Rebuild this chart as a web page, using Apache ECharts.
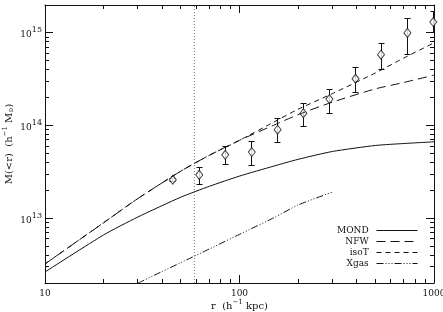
<!DOCTYPE html>
<html>
<head>
<meta charset="utf-8">
<script src="https://cdn.jsdelivr.net/npm/echarts@6/dist/echarts.min.js"></script>
<style>
  html, body { margin: 0; padding: 0; background: #fff; }
  #chart { width: 443px; height: 312px; }
</style>
</head>
<body>
<div id="chart"></div>
<script>
// model curves: r in h^-1 kpc, M(<r) in h^-1 Msun
var curveR = [10, 20, 30, 50, 70, 100, 150, 200, 300, 500, 700, 1000];
var mondM = [2.63e12, 6.6e12, 1.03e13, 1.69e13, 2.21e13, 2.85e13, 3.65e13, 4.32e13, 5.25e13, 6.1e13, 6.4e13, 6.68e13];
var nfwM = [3.21e12, 8.94e12, 1.63e13, 3.23e13, 4.78e13, 6.93e13, 1.01e14, 1.31e14, 1.79e14, 2.49e14, 2.92e14, 3.5e14];
var isoM = [3.21e12, 8.94e12, 1.63e13, 3.23e13, 4.78e13, 6.93e13, 1.09e14, 1.5e14, 2.21e14, 3.7e14, 5.36e14, 7.8e14];
var gasR = [30, 40, 50, 70, 100, 150, 200, 300];
var gasM = [1.99e12, 2.66e12, 3.32e12, 4.66e12, 6.7e12, 1.01e13, 1.39e13, 1.91e13];

// measured points with error bars
var obsR = [45.4, 62.1, 84.5, 115.6, 157, 213, 290, 395, 534, 730, 992];
var obsM = [2.6e13, 2.94e13, 4.83e13, 5.18e13, 9.02e13, 1.36e14, 1.93e14, 3.2e14, 5.82e14, 1.0e15, 1.31e15];
var obsLo = [2.5e13, 2.29e13, 3.77e13, 3.71e13, 6.64e13, 9.78e13, 1.36e14, 2.3e14, 4.01e14, 5.82e14, 1.0e15];
var obsHi = [2.7e13, 3.56e13, 5.9e13, 6.73e13, 1.2e14, 1.71e14, 2.48e14, 4.19e14, 7.66e14, 1.43e15, 1.7e15];

var cutR = 58.6;
var xRange = [10, 1000];
var yRange = [2e12, 2e15];
var xTicks = [10, 100, 1000];
var yTicks = [1e13, 1e14, 1e15];
var legendNames = ['MOND', 'NFW', 'isoT', 'Xgas'];
var dashes = {
  MOND: 'solid',
  NFW: [9, 5],
  isoT: [5, 4],
  Xgas: [7, 2, 1, 2, 1, 2, 1, 2]
};

var FONT = 'DejaVu Serif';
var INK = '#111';
var lg = function (v) { return Math.log10(v); };

var xMin = lg(xRange[0]), xMax = lg(xRange[1]);
var yMin = lg(yRange[0]), yMax = lg(yRange[1]);
var xMajor = xTicks.map(lg), yMajor = yTicks.map(lg);

function minorTicks(lo, hi) {
  var out = [];
  for (var d = Math.floor(lo); d < Math.ceil(hi); d++) {
    for (var k = 2; k < 10; k++) {
      var v = d + lg(k);
      if (v > lo + 1e-6 && v < hi - 1e-6) out.push(v);
    }
  }
  return out;
}

function pairs(r, m) {
  return r.map(function (v, i) { return [lg(v), lg(m[i])]; });
}

// tick marks on all four sides: [0 = x / 1 = y, value, length]
var tickData = [];
xMajor.forEach(function (v) { tickData.push([0, v, 8]); });
minorTicks(xMin, xMax).forEach(function (v) { tickData.push([0, v, 4]); });
yMajor.forEach(function (v) { tickData.push([1, v, 8]); });
minorTicks(yMin, yMax).forEach(function (v) { tickData.push([1, v, 4]); });

var supStyle = { fontFamily: FONT, fontSize: 7, color: INK, padding: [0, 0, 5, 0], verticalAlign: 'bottom' };
var txtStyle = { fontFamily: FONT, fontSize: 10, color: INK, verticalAlign: 'bottom' };
var boxLine = { show: true, onZero: false, lineStyle: { color: INK, width: 1 } };

var xAxes = [
  {
    type: 'value', position: 'bottom', min: xMin, max: xMax,
    axisLine: boxLine, axisTick: { show: false },
    axisLabel: {
      customValues: xMajor, margin: 6, color: INK, fontFamily: FONT, fontSize: 9,
      formatter: function (v) { return String(Math.round(Math.pow(10, v))); }
    },
    splitLine: { show: false },
    name: '{t|r  (h}{s|\u22121}{t| kpc)}',
    nameLocation: 'middle', nameGap: 16, nameMoveOverlap: false,
    nameTextStyle: { rich: { t: txtStyle, s: supStyle } }
  },
  {
    type: 'value', position: 'top', min: xMin, max: xMax,
    axisLine: boxLine, axisTick: { show: false },
    axisLabel: { show: false }, splitLine: { show: false }
  }
];

var yAxes = [
  {
    type: 'value', position: 'left', min: yMin, max: yMax,
    axisLine: boxLine, axisTick: { show: false },
    axisLabel: {
      customValues: yMajor, margin: 3,
      formatter: function (v) { return '{b|10}{e|' + Math.round(v) + '}'; },
      rich: {
        b: { fontFamily: FONT, fontSize: 9, color: INK, verticalAlign: 'bottom' },
        e: { fontFamily: FONT, fontSize: 8, color: INK, padding: [0, 0, 5, 0], verticalAlign: 'bottom' }
      }
    },
    splitLine: { show: false },
    name: '{t|M(<r)  (h}{s|\u22121}{t| M}{o|\u2299}{t|)}',
    nameLocation: 'middle', nameGap: 31, nameMoveOverlap: false,
    nameTextStyle: {
      rich: {
        t: txtStyle, s: supStyle,
        o: { fontFamily: FONT, fontSize: 6, color: INK, padding: [3, 0, 0, 0], verticalAlign: 'bottom' }
      }
    }
  },
  {
    type: 'value', position: 'right', min: yMin, max: yMax,
    axisLine: boxLine, axisTick: { show: false },
    axisLabel: { show: false }, splitLine: { show: false }
  }
];

function curve(name, data) {
  return {
    name: name, type: 'line', data: data, symbol: 'none',
    smooth: 0.2,
    clip: true, silent: true,
    itemStyle: { color: INK },
    lineStyle: { color: INK, width: 1, type: dashes[name] }
  };
}

var errData = obsR.map(function (r, i) { return [lg(r), lg(obsLo[i]), lg(obsHi[i])]; });

var legendTop = [226, 237, 248, 259];
var legends = legendNames.map(function (n, i) {
  return {
    data: [n], right: 25, top: legendTop[i], orient: 'horizontal', align: 'right',
    itemWidth: 41, itemHeight: 10, padding: 0, selectedMode: false,
    formatter: '{name} ',
    itemStyle: { opacity: 0, borderWidth: 0 },
    lineStyle: { color: INK, width: 1, type: dashes[n], opacity: 1 },
    textStyle: { fontFamily: FONT, fontSize: 9, color: INK }
  };
});

var crisp = function (v) { return Math.round(v - 0.5) + 0.5; };

var chart = echarts.init(document.getElementById('chart'), null, { renderer: 'canvas' });
chart.setOption({
  animation: false,
  backgroundColor: '#fff',
  grid: { left: 45, right: 9, top: 5, bottom: 29, outerBoundsMode: 'none', containLabel: false },
  legend: legends,
  xAxis: xAxes,
  yAxis: yAxes,
  series: [
    curve('MOND', pairs(curveR, mondM)),
    curve('NFW', pairs(curveR, nfwM)),
    curve('isoT', pairs(curveR, isoM)),
    curve('Xgas', pairs(gasR, gasM)),
    {
      type: 'line', silent: true, symbol: 'none',
      data: [[lg(cutR), yMin], [lg(cutR), yMax]],
      lineStyle: { color: '#777', width: 1, type: [1, 2] }
    },
    {
      // inward ticks, drawn at the axis values through the grid's scales
      type: 'custom', clip: false, silent: true,
      data: tickData,
      encode: { x: 1, y: 1 },
      renderItem: function (params, api) {
        var isY = api.value(0) === 1, v = api.value(1), len = api.value(2);
        var st = { stroke: INK, lineWidth: 1 };
        var a, b;
        if (!isY) {
          a = api.coord([v, yMin]); b = api.coord([v, yMax]);
          var x = crisp(a[0]);
          return { type: 'group', children: [
            { type: 'line', shape: { x1: x, y1: a[1], x2: x, y2: a[1] - len }, style: st },
            { type: 'line', shape: { x1: x, y1: b[1], x2: x, y2: b[1] + len }, style: st }
          ] };
        }
        a = api.coord([xMin, v]); b = api.coord([xMax, v]);
        var y = crisp(a[1]);
        return { type: 'group', children: [
          { type: 'line', shape: { x1: a[0], y1: y, x2: a[0] + len, y2: y }, style: st },
          { type: 'line', shape: { x1: b[0], y1: y, x2: b[0] - len, y2: y }, style: st }
        ] };
      }
    },
    {
      type: 'custom', clip: true, silent: true,
      data: errData,
      encode: { x: 0, y: [1, 2] },
      renderItem: function (params, api) {
        var lo = api.coord([api.value(0), api.value(1)]);
        var hi = api.coord([api.value(0), api.value(2)]);
        var w = 3, x = crisp(lo[0]);
        var st = { stroke: INK, lineWidth: 1 };
        return {
          type: 'group',
          children: [
            { type: 'line', shape: { x1: x, y1: lo[1], x2: x, y2: hi[1] }, style: st },
            { type: 'line', shape: { x1: x - w, y1: crisp(lo[1]), x2: x + w, y2: crisp(lo[1]) }, style: st },
            { type: 'line', shape: { x1: x - w, y1: crisp(hi[1]), x2: x + w, y2: crisp(hi[1]) }, style: st }
          ]
        };
      }
    },
    {
      type: 'scatter', silent: true,
      data: pairs(obsR, obsM),
      symbol: 'diamond', symbolSize: [7, 9],
      itemStyle: { color: '#fff', borderColor: INK, borderWidth: 1 }
    }
  ]
});
</script>
</body>
</html>
